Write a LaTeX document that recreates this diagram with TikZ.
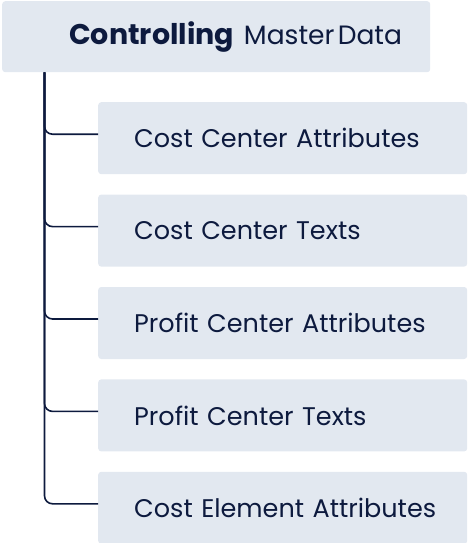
\documentclass[tikz,border=0pt]{standalone}
\usepackage{fontspec}
\setmainfont{Poppins}
\usetikzlibrary{positioning, calc}
\definecolor{boxfill}{HTML}{E2E8F0}
\definecolor{navy}{HTML}{0D1A3E}
\tikzset{
  every node/.style={text=navy},
  hdr/.style={
    fill=boxfill, rounded corners=3pt, minimum height=71pt,
    text width=428pt, inner xsep=0pt, align=left,
    execute at begin node=\hspace*{67pt}
  },
  item/.style={
    fill=boxfill, rounded corners=3pt, minimum height=72pt,
    text width=369pt, inner xsep=0pt, align=left, font=\fontsize{25.5}{30}\selectfont,
    execute at begin node=\hspace*{36pt}
  },
  link/.style={draw=navy, line width=1.6pt, rounded corners=8pt},
}

\begin{document}
\begin{tikzpicture}
  \useasboundingbox (0,0) rectangle (467pt,-543pt);

  % Header box
  \node[hdr, anchor=north west] (top) at (2pt,-1pt)
    {{\fontsize{28.5}{32}\selectfont\bfseries Controlling}\hspace{10pt}{\fontsize{26.5}{30}\selectfont Master Data}};

  % Items
  \node[item, anchor=north west] (b1) at (98pt,-102pt) {Cost Center Attributes};
  \node[item, below=20pt of b1] (b2) {Cost Center Texts};
  \node[item, below=20pt of b2] (b3) {Profit Center Attributes};
  \node[item, below=20pt of b3] (b4) {Profit Center Texts};
  \node[item, below=20pt of b4] (b5) {Cost Element Attributes};

  % Tree lines
  \coordinate (trunk) at ($(top.south west)+(42.5pt,0)$);
  \draw[link] (trunk) |- ([yshift=4pt]b1.west);
  \draw[link] (trunk) |- ([yshift=4pt]b2.west);
  \draw[link] (trunk) |- ([yshift=4pt]b3.west);
  \draw[link] (trunk) |- ([yshift=4pt]b4.west);
  \draw[link] (trunk) |- ([yshift=4pt]b5.west);
\end{tikzpicture}
\end{document}
